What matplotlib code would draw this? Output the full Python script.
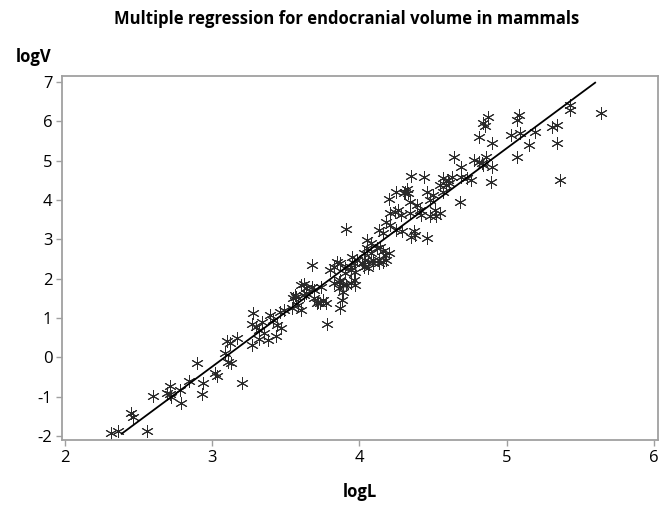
import numpy as np
import matplotlib
matplotlib.use('Agg')
import matplotlib.pyplot as plt

plt.rcParams['font.family'] = ['Open Sans', 'DejaVu Sans']
plt.rcParams['axes.unicode_minus'] = False

# points (logL, logV)
log_l = [2.31, 2.36, 2.56, 2.45, 2.46, 2.60, 2.71, 2.69, 2.71, 2.72,
         2.78, 2.79, 2.84, 2.90, 2.94, 2.93, 3.02, 3.03, 3.10, 3.12,
         3.09, 3.11, 3.13, 3.20, 3.17, 3.28, 3.27, 3.34, 3.30, 3.32,
         3.35, 3.32, 3.27, 3.39, 3.41, 3.44, 3.47, 3.43, 3.38, 3.46,
         3.49, 3.54, 3.60, 3.58, 3.60, 3.56, 3.57, 3.62, 3.64, 3.68,
         3.69, 3.72, 3.73, 3.75, 3.74, 3.68, 3.78, 3.80, 3.85, 3.87,
         3.83, 3.86, 3.88, 3.87, 3.89, 3.69, 3.64, 3.62, 3.71, 3.77,
         3.55, 4.05, 4.08, 4.12, 4.08, 4.13, 4.06, 4.09, 4.02, 4.04,
         3.96, 3.98, 3.95, 3.97, 3.94, 3.90, 3.96, 3.94, 3.91, 3.97,
         3.87, 3.89, 3.86, 3.83, 3.91, 4.35, 4.44, 4.20, 4.31, 4.33,
         4.32, 4.30, 4.25, 4.46, 4.48, 4.34, 4.39, 4.41, 4.21, 4.24,
         4.26, 4.28, 4.34, 4.42, 4.48, 4.52, 4.18, 4.21, 4.13, 4.16,
         4.25, 4.29, 4.37, 4.38, 4.35, 4.46, 4.14, 4.16, 4.17, 4.05,
         4.03, 4.20, 4.18, 3.94, 3.90, 4.09, 4.13, 4.16, 4.03, 4.06,
         4.87, 4.84, 4.85, 4.81, 4.90, 5.03, 4.64, 4.69, 4.78, 4.81,
         4.83, 4.86, 4.90, 4.84, 4.57, 4.60, 4.61, 4.63, 4.59, 4.69,
         4.73, 4.76, 4.89, 4.55, 4.57, 4.50, 4.68, 4.51, 4.55, 5.64,
         5.43, 5.43, 5.08, 5.07, 5.31, 5.34, 5.19, 5.09, 5.15, 5.34,
         5.07, 5.36]
log_v = [-1.93, -1.87, -1.87, -1.42, -1.51, -0.98, -0.73, -0.90, -0.93, -1.02,
         -0.83, -1.17, -0.60, -0.14, -0.65, -0.92, -0.39, -0.48, 0.42, 0.37,
         0.10, -0.11, -0.15, -0.66, 0.48, 1.13, 0.86, 0.91, 0.76, 0.69,
         0.61, 0.46, 0.31, 1.08, 0.95, 0.82, 0.74, 0.53, 0.44, 1.16,
         1.20, 1.25, 1.20, 1.33, 1.84, 1.58, 1.54, 1.58, 1.63, 1.80,
         1.50, 1.41, 1.37, 1.46, 1.80, 2.35, 0.86, 2.22, 2.43, 2.39,
         1.88, 1.92, 1.46, 1.25, 1.67, 1.71, 1.75, 1.86, 1.37, 1.37,
         1.52, 2.98, 2.90, 2.77, 2.64, 2.47, 2.43, 2.40, 2.41, 2.47,
         2.39, 2.47, 2.56, 2.18, 2.22, 2.14, 1.97, 1.88, 1.84, 1.84,
         1.97, 1.84, 1.75, 2.30, 3.25, 4.61, 4.58, 4.02, 4.21, 4.17,
         4.27, 4.17, 4.21, 4.21, 4.00, 3.96, 3.87, 3.75, 3.66, 3.70,
         3.75, 3.62, 3.66, 3.62, 3.58, 3.58, 3.45, 3.36, 3.24, 3.15,
         3.24, 3.20, 3.20, 3.11, 3.07, 3.03, 2.81, 2.69, 2.60, 2.77,
         2.64, 2.64, 2.47, 2.30, 2.26, 2.47, 2.39, 2.43, 2.30, 2.26,
         6.12, 5.95, 5.89, 5.61, 5.44, 5.65, 5.10, 4.85, 5.02, 4.97,
         4.93, 5.10, 4.85, 4.89, 4.55, 4.51, 4.42, 4.59, 4.38, 4.59,
         4.55, 4.51, 4.45, 4.38, 4.21, 4.13, 3.94, 3.75, 3.66, 6.20,
         6.42, 6.29, 6.16, 6.03, 5.86, 5.91, 5.72, 5.71, 5.40, 5.44,
         5.09, 4.51]

# fitted line
fit_intercept = -8.56
fit_slope = 2.775
fit_range = [2.385, 5.60]

x_ticks = [2, 3, 4, 5, 6]
y_ticks = [-2, -1, 0, 1, 2, 3, 4, 5, 6, 7]

fig = plt.figure(figsize=(6.66, 5.08), dpi=100)
ax = fig.add_axes([0.0931, 0.1339, 0.8949, 0.7165])

ax.plot(log_l, log_v, linestyle='none', marker=(6, 2, 0), markersize=9,
        markeredgewidth=0.7, color='#2a2a2a')

fx = np.array(fit_range)
ax.plot(fx, fit_intercept + fit_slope * fx, color='black', linewidth=1.3)

ax.set_xlim(1.98, 6.027)
ax.set_ylim(-2.10, 7.15)
ax.set_xticks(x_ticks)
ax.set_yticks(y_ticks)
ax.tick_params(direction='out', length=4, width=1, color='#a0a0a0',
               labelsize=12, labelcolor='black', pad=3)
for s in ax.spines.values():
    s.set_color('#a0a0a0')
    s.set_linewidth(1.3)

fig.text(0.52, 0.963, 'Multiple regression for endocranial volume in mammals',
         ha='center', va='center', fontsize=12, fontweight='bold')
fig.text(0.024, 0.887, 'logV', ha='left', va='center', fontsize=12,
         fontweight='bold')
fig.text(0.5405, 0.032, 'logL', ha='center', va='center', fontsize=12,
         fontweight='bold')

fig.savefig('out.png', dpi=100)
